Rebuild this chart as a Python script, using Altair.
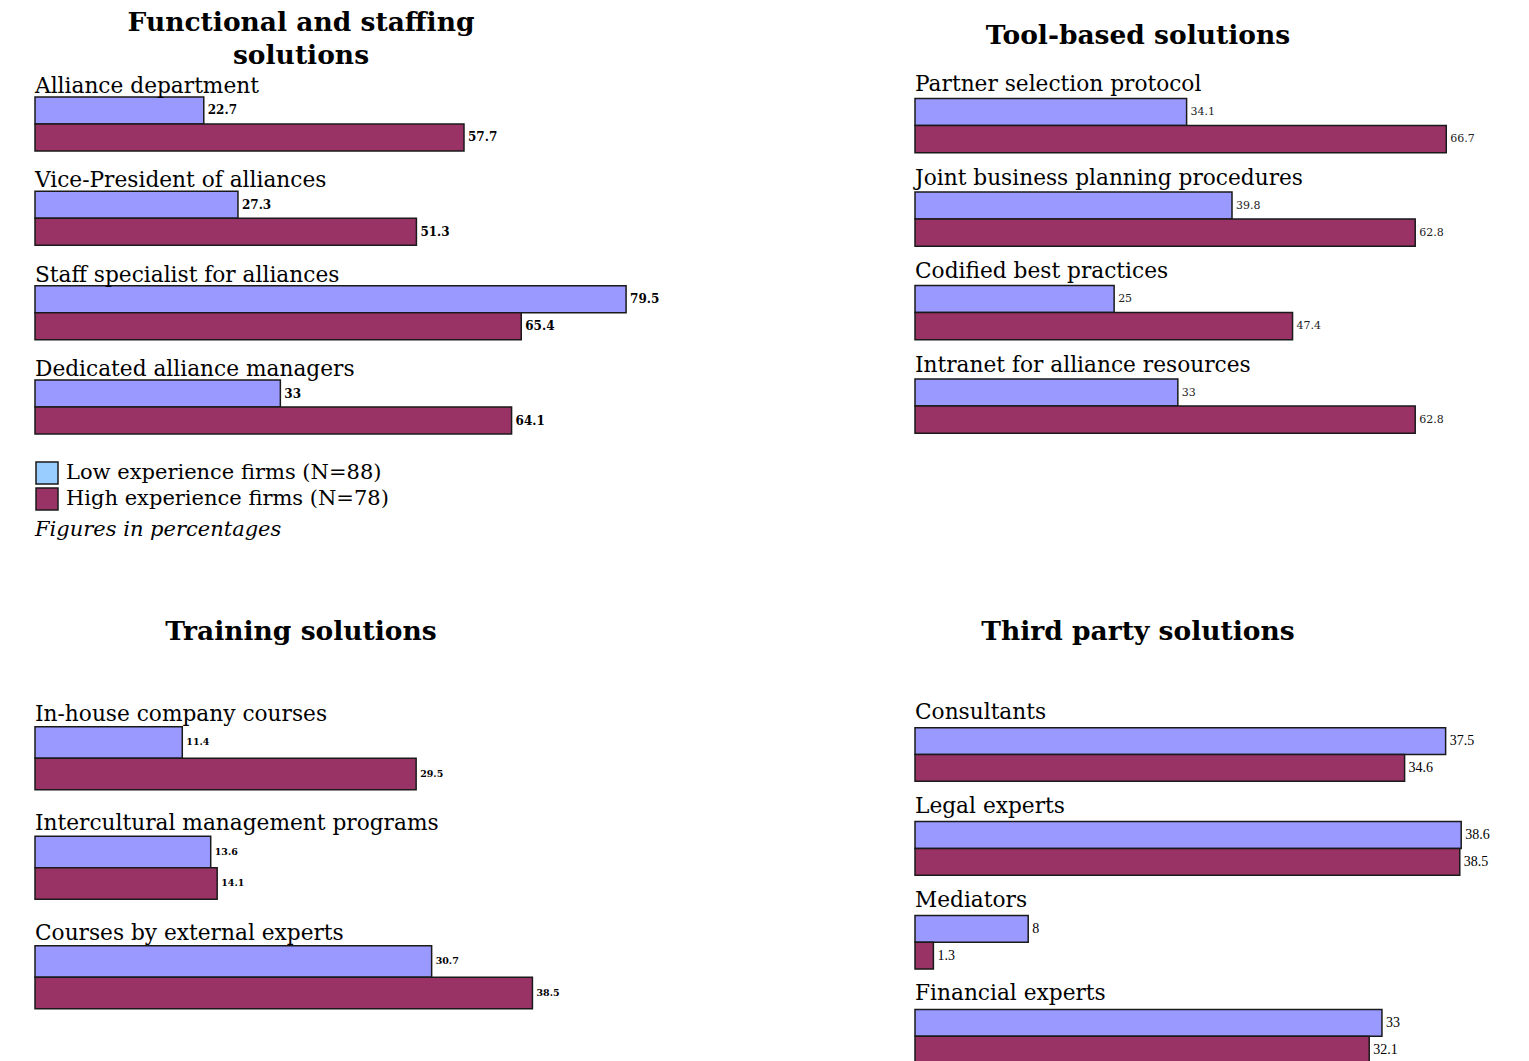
import altair as alt
import pandas as pd

series = ["Low", "High"]
legend_labels = ["Low experience firms (N=88)", "High experience firms (N=78)"]
bar_colors = ["#9999ff", "#993366"]
legend_colors = ["#99ccff", "#993366"]
note = "Figures in percentages"

p1_title = ["Functional and staffing", "solutions"]
p1_cats = ["Alliance department", "Vice-President of alliances",
           "Staff specialist for alliances", "Dedicated alliance managers"]
p1_low = [22.7, 27.3, 79.5, 33]
p1_high = [57.7, 51.3, 65.4, 64.1]

p2_title = "Tool-based solutions"
p2_cats = ["Partner selection protocol", "Joint business planning procedures",
           "Codified best practices", "Intranet for alliance resources"]
p2_low = [34.1, 39.8, 25, 33]
p2_high = [66.7, 62.8, 47.4, 62.8]

p3_title = "Training solutions"
p3_cats = ["In-house company courses", "Intercultural management programs",
           "Courses by external experts"]
p3_low = [11.4, 13.6, 30.7]
p3_high = [29.5, 14.1, 38.5]

p4_title = "Third party solutions"
p4_cats = ["Consultants", "Legal experts", "Mediators", "Financial experts"]
p4_low = [37.5, 38.6, 8, 33]
p4_high = [34.6, 38.5, 1.3, 32.1]

SERIF = "DejaVu Serif"
W1, W2 = 760, 590
CAT_SIZE = 21.7


def table(cats, low, high):
    rows = []
    for c, lo, hi in zip(cats, low, high):
        rows.append({"cat": c, "series": "Low", "value": lo, "label": f"{lo:g}"})
        rows.append({"cat": c, "series": "High", "value": hi, "label": f"{hi:g}"})
    return pd.DataFrame(rows)


def panel(title, title_dx, title_offset, cats, low, high, px_per_unit, width,
          height, pi, po, cat_dy, val_font, val_size, val_weight,
          val_color, legend=False):
    df = table(cats, low, high)
    ysc = alt.Scale(domain=cats, paddingInner=pi, paddingOuter=po)
    xsc = alt.Scale(domain=[0, width / px_per_unit], nice=False, zero=True)
    osc = alt.Scale(domain=series)
    base = alt.Chart(df)
    bars = base.mark_bar(stroke="#1a1a1a", strokeWidth=1.5).encode(
        x=alt.X("value:Q", scale=xsc, axis=None),
        y=alt.Y("cat:N", scale=ysc, axis=None),
        yOffset=alt.YOffset("series:N", scale=osc),
        color=alt.Color("series:N", scale=alt.Scale(domain=series, range=bar_colors), legend=None),
    )
    vals = base.mark_text(align="left", baseline="middle", dx=4, font=val_font,
                          fontSize=val_size, fontWeight=val_weight, color=val_color).encode(
        x=alt.X("value:Q", scale=xsc, axis=None),
        y=alt.Y("cat:N", scale=ysc, axis=None),
        yOffset=alt.YOffset("series:N", scale=osc),
        text="label:N",
    )
    catl = alt.Chart(pd.DataFrame({"cat": cats})).mark_text(
        align="left", baseline="alphabetic", dy=cat_dy, fontSize=CAT_SIZE,
        font=SERIF, color="black").encode(
        x=alt.datum(0),
        y=alt.Y("cat:N", scale=ysc, axis=None, bandPosition=0),
        text="cat:N",
    )
    layers = [bars, vals, catl]
    if legend:
        leg = alt.Chart(pd.DataFrame({"k": legend_labels})).transform_filter("false").mark_square(
            filled=True, opacity=1, stroke="#1a1a1a", strokeWidth=1.5).encode(
            fill=alt.Fill("k:N", scale=alt.Scale(domain=legend_labels, range=legend_colors),
                          legend=alt.Legend(
                              orient="none", legendX=0, legendY=392, title=note,
                              titleOrient="bottom", titleFontStyle="italic",
                              titleFontWeight="normal", titleFontSize=21, titleFont=SERIF,
                              titleColor="black", titleAnchor="start", titlePadding=6,
                              titleLimit=0, labelFont=SERIF, labelFontSize=21,
                              labelColor="black", labelOffset=7, labelLimit=0,
                              symbolType="square", symbolSize=484, symbolStrokeWidth=1.5,
                              symbolOpacity=1, rowPadding=-2, padding=0)),
        )
        layers.append(leg)
    return alt.layer(*layers).properties(
        width=width, height=height,
        title=alt.TitleParams(text=title, anchor="start", frame="group", align="center",
                              dx=title_dx, offset=title_offset, fontSize=26.5,
                              fontWeight="bold", font=SERIF, baseline="bottom",
                              lineHeight=33, color="black"),
    )


c1 = panel(p1_title, 266, -27, p1_cats, p1_low, p1_high, 7.435, W1, 393.0,
           0.4276, 0.2968, -4, SERIF, 12, "bold", "black", legend=True)
c2 = panel(p2_title, 223, -7, p2_cats, p2_low, p2_high, 7.965, W2, 393.7,
           0.4203, 0.3155, -7, SERIF, 11, "normal", "#222222")
c3 = panel(p3_title, 266, 19, p3_cats, p3_low, p3_high, 12.92, W1, 352.0,
           0.4247, 0.3196, -6, SERIF, 9.5, "bold", "black")
c4 = panel(p4_title, 223, 19, p4_cats, p4_low, p4_high, 14.15, W2, 407.3,
           0.4292, 0.3834, -9, "Liberation Serif", 14, "normal", "black")

chart = alt.concat(c1, c2, c3, c4, columns=2, bounds="flush", align="all",
                   spacing={"row": 214.7, "column": 120}).resolve_scale(
    yOffset="independent"
).properties(
    padding={"left": 26, "top": 1, "right": 5, "bottom": 5}
).configure(font=SERIF).configure_view(stroke=None)

chart.save("out.html", embed_options={"renderer": "svg", "actions": False})
